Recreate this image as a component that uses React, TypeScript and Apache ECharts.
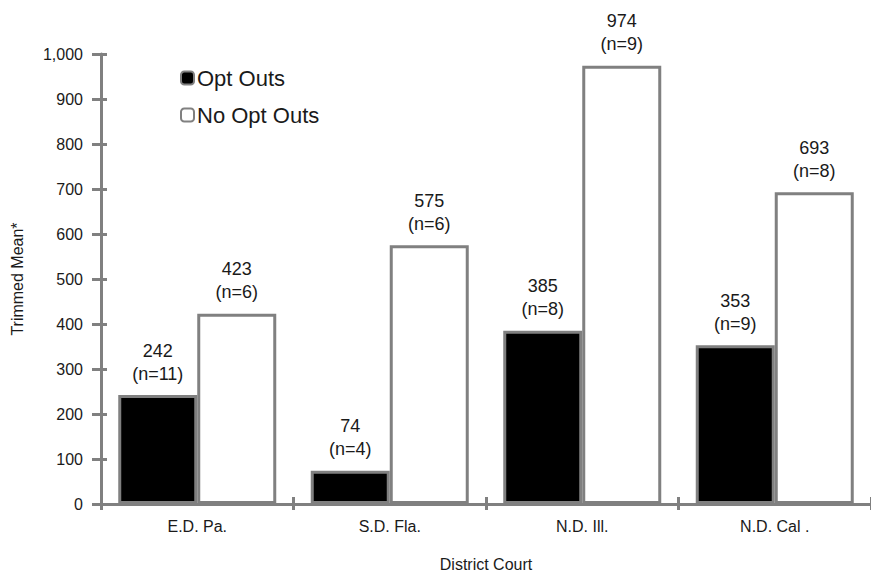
import React, { useEffect, useRef } from "react";
import * as echarts from "echarts";

const categories = ["E.D. Pa.", "S.D. Fla.", "N.D. Ill.", "N.D. Cal ."];
const optOuts = [242, 74, 385, 353];
const optOutsN = [11, 4, 8, 9];
const noOptOuts = [423, 575, 974, 693];
const noOptOutsN = [6, 6, 9, 8];
const yTicks = { min: 0, max: 1000, interval: 100 };

const FONT = "'Liberation Sans', Arial, sans-serif";
const GRAY = "#808080";
const TEXT = "#1a1a1a";

export default function App() {
  const ref = useRef<HTMLDivElement>(null);
  useEffect(() => {
    if (!ref.current) return;
    const chart = echarts.init(ref.current, null, { renderer: "svg" });
    const label = (ns: number[]) => ({
      show: true,
      position: "top",
      distance: 10,
      color: TEXT,
      fontSize: 18,
      lineHeight: 23,
      fontFamily: FONT,
      formatter: (p: any) => `${p.value}\n(n=${ns[p.dataIndex]})`,
    });
    chart.setOption({
      animation: false,
      backgroundColor: "#fff",
      textStyle: { fontFamily: FONT, color: TEXT },
      grid: { left: 101, right: -4, top: 54, bottom: 70, containLabel: false },
      legend: {
        orient: "vertical",
        left: 175,
        top: 62,
        itemWidth: 13,
        itemHeight: 13,
        itemGap: 15,
        textStyle: { fontSize: 22, color: TEXT, fontFamily: FONT, padding: [0, 0, 0, -2] },
        data: ["Opt Outs", "No Opt Outs"],
      },
      xAxis: [
        {
          type: "category",
          data: categories,
          name: "District Court",
          nameLocation: "middle",
          nameGap: 52,
          nameTextStyle: { fontSize: 16, color: TEXT, fontFamily: FONT },
          axisLine: { lineStyle: { color: GRAY, width: 3 } },
          axisTick: { show: true, length: 6, lineStyle: { color: GRAY, width: 3 } },
          axisLabel: { fontSize: 16, color: TEXT, margin: 14, fontFamily: FONT },
        },
        {
          type: "category",
          data: categories,
          position: "bottom",
          axisLine: { show: false },
          axisTick: { show: true, inside: true, length: 7, lineStyle: { color: GRAY, width: 3 } },
          axisLabel: { show: false },
        },
      ],
      yAxis: [
        {
          type: "value",
          ...yTicks,
          name: "Trimmed Mean*",
          nameLocation: "middle",
          nameGap: 76,
          nameTextStyle: { fontSize: 16, color: TEXT, fontFamily: FONT, padding: [0, 0, 0, 0] },
          axisLine: { show: true, lineStyle: { color: GRAY, width: 3 } },
          axisTick: { show: true, length: 9, lineStyle: { color: GRAY, width: 3 } },
          splitLine: { show: false },
          axisLabel: {
            fontSize: 16,
            color: TEXT,
            margin: 18,
            fontFamily: FONT,
            formatter: (v: number) => v.toLocaleString("en-US"),
          },
        },
        {
          type: "value",
          ...yTicks,
          position: "left",
          axisLine: { show: false },
          axisTick: { show: true, inside: true, length: 6, lineStyle: { color: GRAY, width: 3 } },
          splitLine: { show: false },
          axisLabel: { show: false },
        },
      ],
      series: [
        {
          name: "Opt Outs",
          type: "bar",
          data: optOuts,
          barWidth: 79,
          barGap: "0%",
          itemStyle: { color: "#000", borderColor: GRAY, borderWidth: 3 },
          label: label(optOutsN),
        },
        {
          name: "No Opt Outs",
          type: "bar",
          data: noOptOuts,
          barWidth: 79,
          barGap: "0%",
          itemStyle: { color: "#fff", borderColor: GRAY, borderWidth: 3 },
          label: label(noOptOutsN),
        },
      ],
    });
    return () => chart.dispose();
  }, []);
  return <div ref={ref} style={{ width: 871, height: 577, position: "absolute", left: 0, top: 0 }} />;
}
